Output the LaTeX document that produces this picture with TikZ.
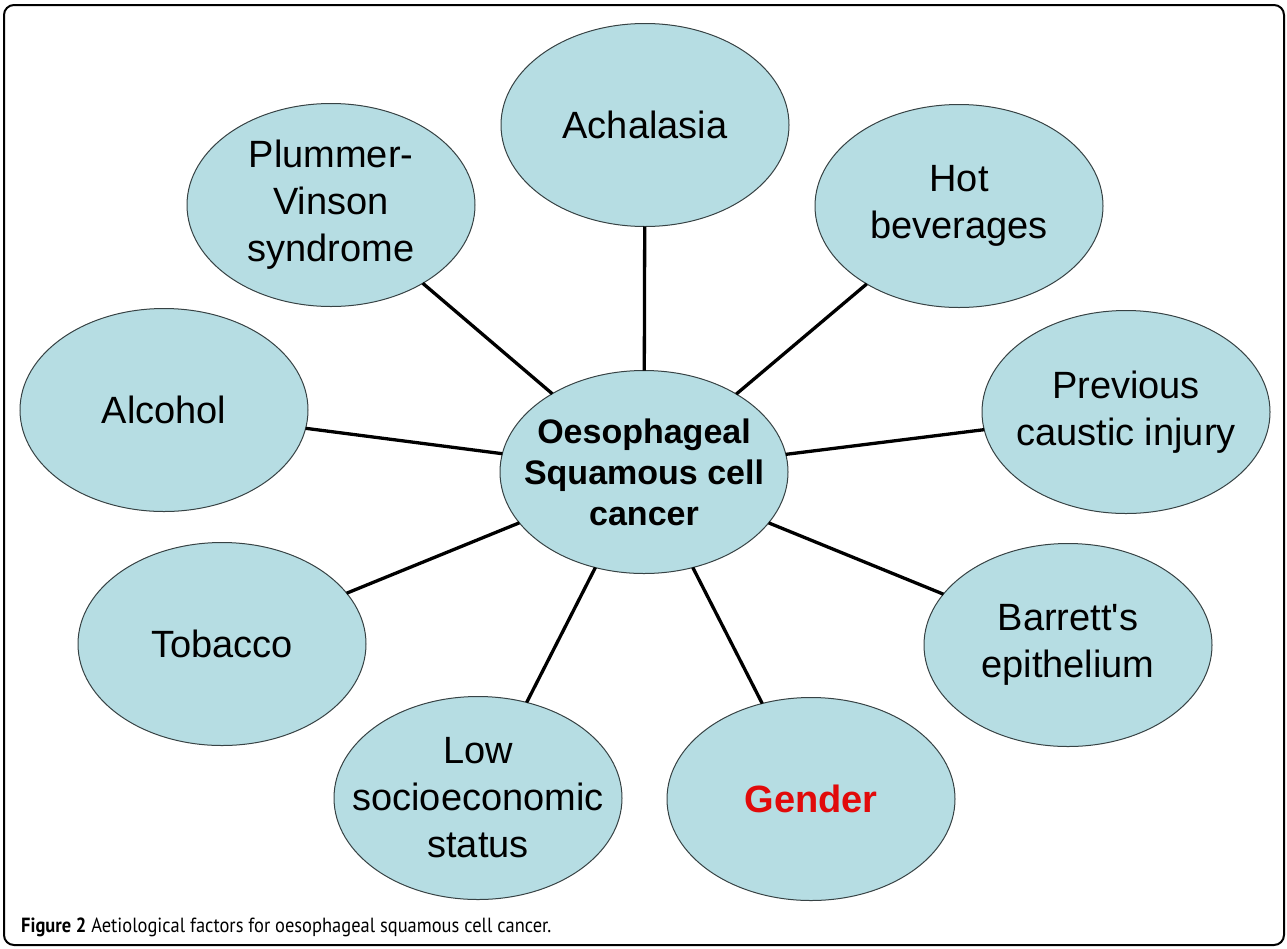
\documentclass[tikz,border=0pt]{standalone}
\usepackage{fontspec}
\setmainfont{Liberation Sans}
\newfontfamily\bubblefont{Liberation Sans}
\newfontfamily\capfont[FakeStretch=0.9]{PT Sans}
\usetikzlibrary{shapes.geometric}
\definecolor{bubblefill}{RGB}{182,221,227}
\definecolor{bubbleline}{RGB}{55,66,68}
\definecolor{gendred}{RGB}{225,10,10}
\tikzset{
  bubble/.style={ellipse, draw=bubbleline, line width=1pt, fill=bubblefill,
    minimum width=288pt, minimum height=203pt, inner sep=0pt, outer sep=0pt},
  lbl/.style={align=center, inner sep=0pt, text=black,
    font={\bubblefont\fontsize{38}{47}\selectfont}},
  centrelbl/.style={lbl, font={\bubblefont\bfseries\fontsize{34}{41}\selectfont}},
  redlbl/.style={lbl, text=gendred, font={\bubblefont\bfseries\fontsize{38}{47}\selectfont}},
  link/.style={line width=3.3pt, black},
  frame/.style={line width=2pt, black, rounded corners=10pt},
  captxt/.style={inner sep=0pt, anchor=base west, font={\capfont\fontsize{20.5}{24}\selectfont}},
}
\begin{document}
\begin{tikzpicture}[x=1pt, y=-1pt]
\useasboundingbox (0,0) rectangle (1287,948);
\fill[white] (0,0) rectangle (1287,948);
\draw[frame] (4,5) rectangle (1284,945);

\node[bubble, label={[centrelbl]center:{Oesophageal\\Squamous cell\\cancer}}] (c) at (644,472) {};
\node[bubble, label={[lbl]center:Achalasia}] (ach) at (645,125) {};
\node[bubble, label={[lbl]center:{Plummer-\\Vinson\\syndrome}}] (pv) at (331,205) {};
\node[bubble, label={[lbl]center:{Hot\\beverages}}] (hot) at (959,206) {};
\node[bubble, label={[lbl]center:Alcohol}] (alc) at (164,410) {};
\node[bubble, label={[lbl]center:{Previous\\caustic injury}}] (prev) at (1126,412) {};
\node[bubble, label={[lbl]center:Tobacco}] (tob) at (222,644) {};
\node[bubble, label={[lbl]center:{Barrett's\\epithelium}}] (bar) at (1068,645) {};
\node[bubble, label={[lbl]center:{Low\\socioeconomic\\status}}] (low) at (478,798) {};
\node[bubble, label={[redlbl]center:Gender}] (gen) at (811,799) {};

\foreach \n in {ach,pv,hot,alc,prev,tob,bar,low,gen}
  \draw[link] (c) -- (\n);

\node[captxt] (cap) at (21,932) {\textbf{Figure 2} Aetiological factors for oesophageal squamous cell cancer.};
\end{tikzpicture}
\end{document}
